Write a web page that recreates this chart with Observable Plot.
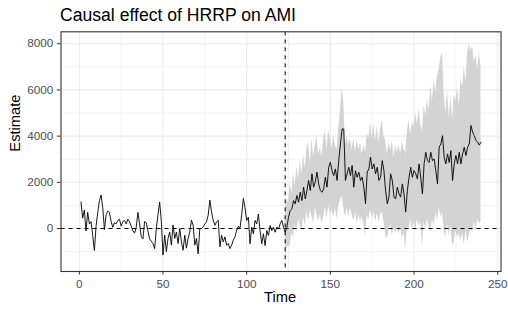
<!DOCTYPE html>
<html><head><meta charset="utf-8">
<script src="https://cdn.jsdelivr.net/npm/d3@7"></script>
<script src="https://cdn.jsdelivr.net/npm/@observablehq/plot@0.6"></script>
<style>
body{margin:0;background:#fff;}
#wrap{position:relative;width:508px;height:316px;font-family:"Liberation Sans",Arial,sans-serif;overflow:hidden;}
#title{position:absolute;left:60px;top:7px;font-size:17.6px;color:#000;line-height:1;white-space:nowrap;}
#chart{position:absolute;left:0;top:28px;}
</style></head><body>
<div id="wrap"><div id="title">Causal effect of HRRP on AMI</div><div id="chart"></div></div>
<script>
const estimate = [
1150, 450, 800, -100, 700, 200, 300, -300, -950, 100,
700, 1200, 1450, 900, -50, 600, 750, 700, 300, 50,
250, 200, 350, 400, 100, 300, 350, 200, 400, 300,
100, -100, -200, 50, 700, 200, -350, -450, 300, 250,
-100, -450, -550, -650, -870, 0, 600, 1150, 300, -1150,
-290, -1000, -430, -150, -720, 150, -430, -150, -650, 0,
-580, -940, -290, -850, -430, -150, 360, 150, -720, -430,
-1100, 0, 0, 70, 200, 290, 580, 1230, 720, 360,
140, 290, 360, -790, -290, -580, -360, -720, -650, -870,
-720, -500, -360, -70, 100, 0, 600, 1300, 900, 350,
490, -660, 60, -230, 350, 200, 630, -90, -660, -230,
-740, -90, -300, 130, -90, 60, -160, 60, -20, 200,
350, 60, -160, 60, 490, 780, 850, 1210, 1070, 1430,
1140, 1570, 1210, 1790, 1280, 1640, 2080, 1640, 2370, 1790,
2020, 2440, 1930, 1650, 1570, 1720, 2220, 1790, 2650, 2870,
2500, 2290, 2580, 2080, 2940, 3660, 4310, 4310, 2080, 2370,
2650, 2290, 2730, 1790, 2500, 2220, 2440, 2080, 2220, 1790,
1070, 2440, 2580, 3090, 2580, 2800, 2370, 2650, 2080, 2220,
2940, 2500, 1650, 1070, 1360, 2370, 2080, 1360, 1280, 1790,
1500, 1360, 1930, 1500, 710, 1640, 2220, 2650, 2220, 2510,
2370, 2150, 2800, 2220, 1500, 2800, 3300, 2940, 2860, 3300,
2940, 3010, 2510, 1930, 3520, 3660, 4020, 3080, 2800, 3230,
2860, 3370, 2080, 2800, 3160, 2800, 3300, 2800, 3230, 3520,
3160, 3520, 3660, 4460, 4170, 4020, 3810, 3740, 3610, 3740
];
const ribbonStart = 123;
const upper = [
700, 1300, 1100, 2000, 1500, 2400, 1800, 2700,
2100, 3000, 2300, 3200, 2600, 3500, 3700, 2800, 3900, 3100,
3600, 4000, 3200, 3500, 3100, 3900, 4200, 3400, 4300, 3800,
3500, 4000, 3600, 3400, 4300, 5100, 6100, 5500, 3600, 4000,
3600, 3900, 3400, 3900, 3300, 3800, 3400, 3700, 3200, 3600,
3300, 4100, 3900, 4600, 3900, 4500, 3800, 4400, 3700, 4300,
4700, 4000, 3800, 3200, 3700, 3400, 3800, 3100, 3600, 3300,
3600, 3200, 3800, 3400, 3300, 4200, 4700, 4100, 4600, 4400,
5000, 4500, 5200, 4500, 4200, 5300, 4900, 5600, 5100, 6200,
5500, 6400, 5900, 6600, 6900, 7400, 7600, 5800, 5000, 6000,
4800, 5700, 4700, 5800, 5500, 6100, 5300, 6500, 6100, 7000,
6300, 7600, 8000, 7700, 7900, 7200, 7500, 6900, 7600, 7000
];
const lower = [
-1250, -900, -700, -800, -200, -400, 200, -200,
400, 100, -100, 500, 100, 700, 300, 800, 500, 200,
900, 600, 300, 600, 200, 500, 900, 400, 1000, 600,
800, 500, 900, 400, 1000, 1200, 1400, 900, 500, 900,
500, 900, 600, 300, 700, 200, 600, 300, 500, 200,
-350, 600, 400, 800, 400, 700, 300, 650, 250, 600,
700, 300, -300, -450, -100, 200, -300, 0, -200, 100,
-250, 0, -400, -200, -950, 100, -100, 400, -100, 300,
-100, 400, 100, 300, -800, 300, 0, 400, 100, -200,
400, 100, 700, 300, 900, 500, 700, -100, -400, 200,
-300, 100, -750, -600, -100, -400, -200, -500, -200, -700,
-100, -600, -300, 0, -200, 300, -100, 400, 200, 300
];
const interventionTime = 123;
const xTicks = [0, 50, 100, 150, 200, 250];
const yTicks = [0, 2000, 4000, 6000, 8000];
const xMinor = [25, 75, 125, 175, 225];
const yMinor = [-1000, 1000, 3000, 5000, 7000];

const lineData = estimate.map((v, i) => ({t: i + 1, v}));
const ribbonData = upper.map((u, i) => ({t: ribbonStart + i, upper: u, lower: lower[i]}));

const chart = Plot.plot({
  width: 508,
  height: 288,
  marginTop: 3.3,
  marginBottom: 45,
  marginLeft: 60.5,
  marginRight: 7.5,
  style: {fontFamily: '"Liberation Sans", Arial, sans-serif', fontSize: "11.7px", background: "#fff"},
  x: {domain: [-10.95, 251.95]},
  y: {domain: [-1860, 8515]},
  marks: [
    Plot.ruleX(xMinor, {stroke: "#ebebeb", strokeWidth: 0.6}),
    Plot.ruleY(yMinor, {stroke: "#ebebeb", strokeWidth: 0.6}),
    Plot.ruleX(xTicks, {stroke: "#ebebeb", strokeWidth: 1.1}),
    Plot.ruleY(yTicks, {stroke: "#ebebeb", strokeWidth: 1.1}),
    Plot.areaY(ribbonData, {x: "t", y1: "lower", y2: "upper", fill: "#d3d3d3"}),
    Plot.lineY(lineData, {x: "t", y: "v", stroke: "#000", strokeWidth: 0.9}),
    Plot.ruleX([interventionTime], {stroke: "#000", strokeWidth: 1, strokeDasharray: "4,4"}),
    Plot.ruleY([0], {stroke: "#000", strokeWidth: 1, strokeDasharray: "4,4"}),
    Plot.frame({stroke: "#333", strokeWidth: 1.1}),
    Plot.axisX(xTicks, {tickSize: 3.7, tickPadding: 4.8, fill: "#4d4d4d", stroke: "#333", label: null, fontSize: 11.7}),
    Plot.axisY(yTicks, {tickSize: 3.7, tickPadding: 4, fill: "#4d4d4d", stroke: "#333", label: null, fontSize: 11.7, tickFormat: d => String(d)}),
    Plot.text(["Time"], {frameAnchor: "bottom", dy: 30.8, dx: -1, fontSize: 14.7, fill: "#000"}),
    Plot.text(["Estimate"], {frameAnchor: "left", dx: -45.5, rotate: -90, fontSize: 14.7, fill: "#000"})
  ]
});
document.getElementById("chart").appendChild(chart);
</script>
</body></html>
